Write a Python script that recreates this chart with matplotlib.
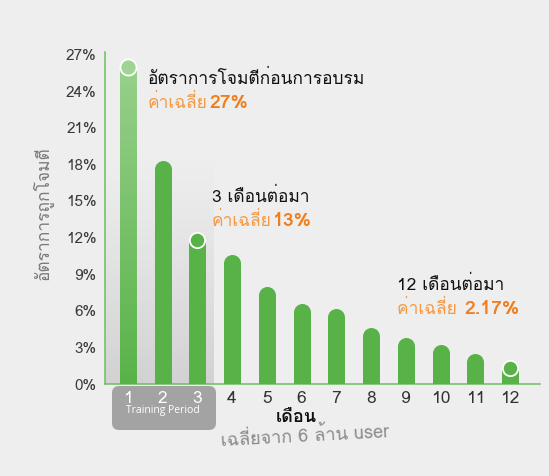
import numpy as np
import matplotlib
matplotlib.use("Agg")
import matplotlib.pyplot as plt
from matplotlib import font_manager
from matplotlib.ft2font import FT2Font
from matplotlib.patches import FancyBboxPatch
from matplotlib.collections import LineCollection

# ---------------- data ----------------
months = list(range(1, 13))
month_labels = [str(m) for m in months]
attack_rate = [26.6, 18.3, 12.4, 10.6, 8.0, 6.6, 6.2, 4.6, 3.8, 3.2, 2.5, 1.9]
y_ticks = [0, 3, 6, 9, 12, 15, 18, 21, 24, 27]
y_tick_labels = [f"{v}%" for v in y_ticks]
marked_months = [3, 12]

# ---------------- font with Thai glyphs ----------------
thai_fonts = []
for f in font_manager.fontManager.ttflist:
    try:
        cm = FT2Font(f.fname).get_charmap()
        if 0x0E01 in cm and 0x0E2D in cm and 0x0E40 in cm:
            if f.name not in thai_fonts:
                thai_fonts.append(f.name)
    except Exception:
        pass
families = thai_fonts + ["DejaVu Sans"]
plt.rcParams["font.family"] = families

W, H = 549, 476
DPI = 100
BG = "#eeeeee"
GREEN = "#58b248"
GREEN_LIGHT = "#96cf8a"
ORANGE = "#f07e1c"
ORANGE_LIGHT = "#f49a45"

fig = plt.figure(figsize=(W / DPI, H / DPI), dpi=DPI, facecolor=BG)

# pixel-coordinate background axes (for decorations)
bg = fig.add_axes([0, 0, 1, 1], zorder=0)
bg.set_xlim(0, W)
bg.set_ylim(H, 0)
bg.axis("off")
bg.set_facecolor(BG)

# main axes
ax_left, ax_right, ax_bottom, ax_top = 105, 540, 384, 52
ax = fig.add_axes([ax_left / W, 1 - ax_bottom / H, (ax_right - ax_left) / W,
                   (ax_bottom - ax_top) / H], zorder=2)
ax.set_facecolor("none")
ax.set_xlim(0.345, 12.86)
ax.set_ylim(0, 27.2)

for s in ["top", "right"]:
    ax.spines[s].set_visible(False)
for s in ["left", "bottom"]:
    ax.spines[s].set_color("#6cbf5f")
    ax.spines[s].set_linewidth(1.1)

# gradient shade behind training period (bars 1-3)
grad = np.zeros((100, 1, 4))
grad[..., :3] = 0.62
grad[:, 0, 3] = np.linspace(0.42, 0.0, 100) ** 1.2
ax.imshow(grad, extent=(0.34, 3.47, 0, 19.0), origin="lower", aspect="auto",
          zorder=0, interpolation="bilinear")

# bars: width in points
bar_px = 17.0
bar_pt = bar_px * 72 / DPI
px_per_unit = (ax_bottom - ax_top) / 27.2
cap = (bar_px / 2) / px_per_unit

for m, v in zip(months, attack_rate):
    top = v - cap
    if m == 1:
        n = 80
        ys = np.linspace(0, top, n + 1)
        segs = [[(m, ys[i]), (m, ys[i + 1] + 0.25)] for i in range(n)]
        c0 = np.array(matplotlib.colors.to_rgb(GREEN))
        c1 = np.array(matplotlib.colors.to_rgb(GREEN_LIGHT))
        t = np.linspace(0, 1, n)[:, None]
        cols = c0 * (1 - t) + c1 * t
        lc = LineCollection(segs, colors=cols, linewidths=bar_pt,
                            capstyle="butt", antialiaseds=False, zorder=3)
        ax.add_collection(lc)
        ax.plot([m], [top], "o", ms=bar_pt, color=GREEN_LIGHT, mew=0, zorder=3)
        ax.plot([m], [top + 0.05], "o", ms=bar_pt * 0.95, color="#9fd494",
                mec="white", mew=1.3, zorder=4)
    else:
        ax.plot([m, m], [0, top], color=GREEN, lw=bar_pt,
                solid_capstyle="butt", zorder=3)
        ax.plot([m], [top], "o", ms=bar_pt, color=GREEN, mew=0, zorder=3)
        if m in marked_months:
            ax.plot([m], [top + 0.1], "o", ms=bar_pt * 0.9, color=GREEN,
                    mec="white", mew=1.3, zorder=4)

# ticks
ax.set_yticks(y_ticks)
ax.set_yticklabels(y_tick_labels, fontsize=11, color="#3a3a3a")
ax.tick_params(axis="y", length=0, pad=6)
ax.set_xticks(months)
ax.set_xticklabels(month_labels, fontsize=12.5, color="#333333")
ax.tick_params(axis="x", length=0, pad=5)
for lbl, m in zip(ax.get_xticklabels(), months):
    if m <= 3:
        lbl.set_color("white")

# grey training period box below axis
box = FancyBboxPatch((112, 386), 104, 44, boxstyle="round,pad=0,rounding_size=7",
                     facecolor="#a3a3a3", edgecolor="none", zorder=1)
bg.add_patch(box)
bg.text(163, 411, "Training Period", color="white", fontsize=7.5,
        ha="center", va="center", family=["Open Sans", "DejaVu Sans"], zorder=3)

# axis titles
bg.text(296, 417, "เดือน", fontsize=13, fontweight="bold", color="#111111",
        ha="center", va="center", zorder=3)
bg.text(305, 436, "เฉลี่ยจาก 6 ล้าน user", fontsize=13, color="#8a8a8a",
        ha="center", va="center", rotation=3, zorder=3)
bg.text(42, 213, "อัตราการถูกโจมตี", fontsize=12.5, color="#7a7a7a",
        ha="center", va="center", rotation=90, zorder=3)

# annotations
def note(x, y, title, prefix, value):
    bg.text(x, y, title, fontsize=12.5, color="#111111", ha="left",
            va="center", zorder=3)
    t = bg.text(x, y + 24, prefix, fontsize=12.5, color=ORANGE_LIGHT,
                ha="left", va="center", zorder=3)
    bg.annotate(value, xy=(1, 0.5), xycoords=t, xytext=(1, 0),
                textcoords="offset points", fontsize=14, fontweight="bold",
                color=ORANGE, ha="left", va="center", zorder=3)

note(148, 79, "อัตราการโจมตีก่อนการอบรม", "ค่าเฉลี่ย", "27%")
note(212, 197, "3 เดือนต่อมา", "ค่าเฉลี่ย", "13%")
note(397, 285, "12 เดือนต่อมา", "ค่าเฉลี่ย ", "2.17%")

fig.savefig("out.png", dpi=DPI, facecolor=BG)
